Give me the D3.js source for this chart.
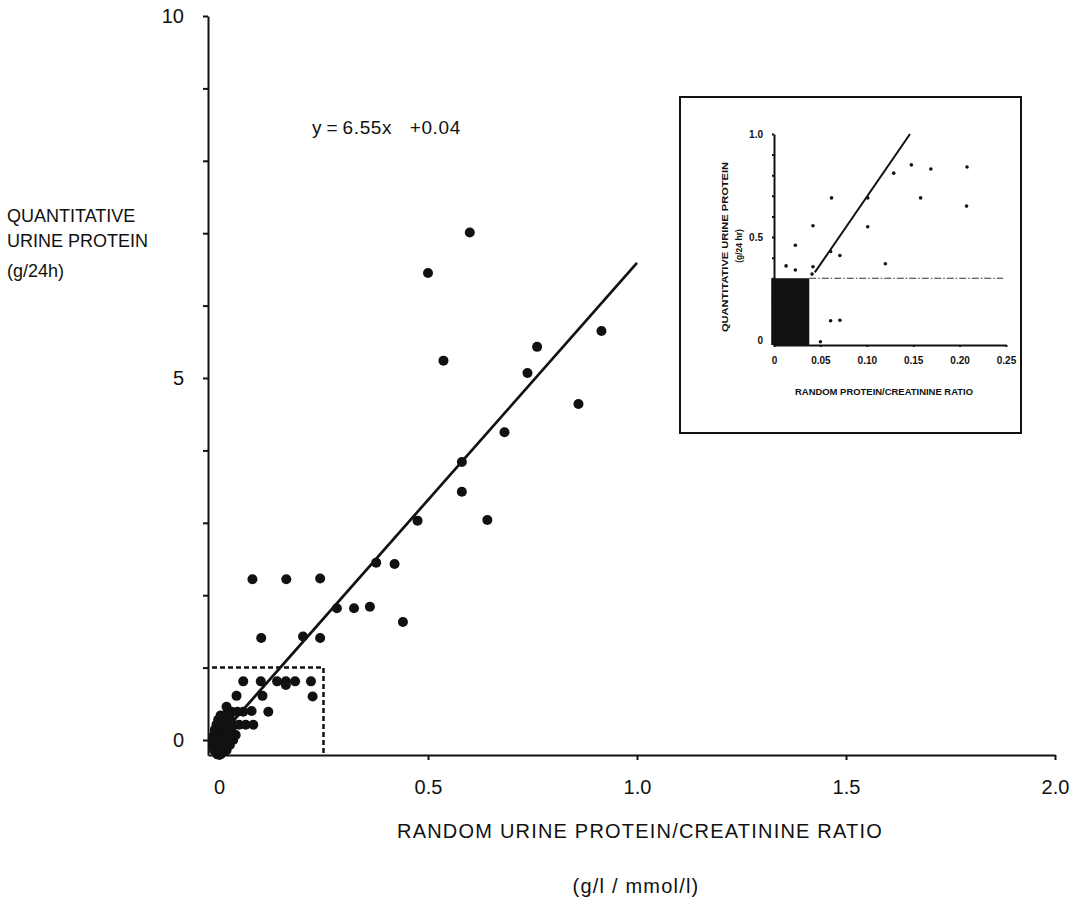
<!DOCTYPE html>
<html>
<head>
<meta charset="utf-8">
<script src="https://cdn.jsdelivr.net/npm/d3@7"></script>
<style>
  body { margin: 0; background: #fff; }
  text { font-family: "Liberation Sans", Arial, sans-serif; fill: #111; }
  .axis path, .axis line { stroke: #111; stroke-width: 2; }
  .axis text { font-size: 20px; }
  .inset .axis text { font-size: 10px; font-weight: bold; }
</style>
</head>
<body>
<div id="chart"></div>
<script>
// Data: main scatter (ratio g/l / mmol/l, protein g/24h)
let ratio = [0.600, 0.500, 0.537, 0.761, 0.738, 0.915, 0.860, 0.683, 0.581, 0.581, 0.642, 0.475,
  0.080, 0.161, 0.242, 0.376, 0.420, 0.282, 0.323, 0.361, 0.440, 0.101, 0.201, 0.242,
  0.058, 0.100, 0.139, 0.160, 0.160, 0.182, 0.220, 0.042, 0.104, 0.224, 0.118, 0.078, 0.058, 0.082, 0.018];
let protein = [7.01, 6.45, 5.24, 5.43, 5.07, 5.65, 4.64, 4.25, 3.84, 3.43, 3.04, 3.03,
  2.22, 2.22, 2.23, 2.45, 2.43, 1.82, 1.82, 1.84, 1.63, 1.41, 1.43, 1.41,
  0.81, 0.81, 0.81, 0.81, 0.76, 0.81, 0.81, 0.61, 0.61, 0.60, 0.39, 0.40, 0.39, 0.21, 0.46];

// Data: dense group near the origin
let clusterRatio = [-0.004, 0.004,
  -0.012, -0.002, 0.008, 0.018,
  -0.014, -0.004, 0.006, 0.016, 0.026,
  -0.014, -0.004, 0.006, 0.016, 0.026, 0.034,
  -0.012, -0.002, 0.008, 0.018, 0.028, 0.040,
  -0.010, 0.000, 0.010, 0.020, 0.030,
  -0.006, 0.004, 0.014, 0.024, 0.034, 0.048, 0.064,
  -0.002, 0.008, 0.018, 0.028,
  0.004, 0.014, 0.024,
  0.030, 0.044];
let clusterProtein = [-0.20, -0.20,
  -0.14, -0.14, -0.14, -0.14,
  -0.07, -0.07, -0.07, -0.07, -0.07,
  0.00, 0.00, 0.00, 0.00, 0.00, 0.00,
  0.07, 0.07, 0.07, 0.07, 0.07, 0.07,
  0.14, 0.14, 0.14, 0.14, 0.14,
  0.21, 0.21, 0.21, 0.21, 0.21, 0.21, 0.21,
  0.28, 0.28, 0.28, 0.28,
  0.34, 0.34, 0.34,
  0.39, 0.39];

// Data: inset
let insetRatio = [0.013, 0.023, 0.023, 0.042, 0.042, 0.041, 0.062, 0.061, 0.071, 0.101, 0.101, 0.120,
  0.129, 0.148, 0.158, 0.169, 0.208, 0.2075, 0.061, 0.071, 0.050];
let insetProtein = [0.36, 0.34, 0.46, 0.555, 0.356, 0.32, 0.69, 0.43, 0.41, 0.69, 0.55, 0.37,
  0.81, 0.85, 0.69, 0.83, 0.84, 0.65, 0.094, 0.096, -0.008];

// Regression and ticks
let slope = 6.55, intercept = 0.04;
let xTicks = [0, 0.5, 1.0, 1.5, 2.0];
let yTicks = d3.range(0, 11);
let yLabels = [0, 5, 10];
let insetXTicks = [0, 0.05, 0.10, 0.15, 0.20, 0.25];
let insetYTicks = d3.range(0, 11).map(d => d / 10);
let insetYLabels = [0, 0.5, 1.0];

// SVG
let svg = d3.select('#chart')
  .append('svg')
  .attr('width', 1082)
  .attr('height', 911);

// Scales
let x = d3.scaleLinear().domain([-0.0263, 2]).range([208, 1055]);
let y = d3.scaleLinear().domain([-0.207, 10]).range([755, 16]);

// Axes
svg.append('g')
  .attr('class', 'x axis')
  .attr('transform', `translate(0, ${y(-0.207)})`)
  .call(d3.axisBottom(x).tickValues(xTicks).tickSize(5).tickSizeOuter(0).tickPadding(20)
    .tickFormat(d => d === 0 ? '0' : d3.format('.1f')(d)));
svg.append('g')
  .attr('class', 'y axis')
  .attr('transform', `translate(${x(-0.0263)}, 0)`)
  .call(d3.axisLeft(y).tickValues(yTicks).tickSize(5).tickSizeOuter(0).tickPadding(19)
    .tickFormat(d => yLabels.includes(d) ? d : ''));

// Dashed box round the inset region
svg.append('path')
  .attr('d', `M${x(-0.0263) + 4},${y(1)}H${x(0.25)}V${y(-0.207)}`)
  .attr('fill', 'none')
  .attr('stroke', '#111')
  .attr('stroke-width', 2.5)
  .attr('stroke-dasharray', '5,3');

// Regression line
svg.append('line')
  .attr('x1', x(0)).attr('y1', y(intercept))
  .attr('x2', x(1)).attr('y2', y(slope + intercept))
  .attr('stroke', '#111')
  .attr('stroke-width', 2.7);

// Points
svg.selectAll('.cluster')
  .data(d3.zip(clusterRatio, clusterProtein))
  .enter()
  .append('circle')
  .attr('class', 'cluster')
  .attr('cx', d => x(d[0]))
  .attr('cy', d => y(d[1]))
  .attr('r', 5)
  .attr('fill', '#111');
svg.selectAll('.dot')
  .data(d3.zip(ratio, protein))
  .enter()
  .append('circle')
  .attr('class', 'dot')
  .attr('cx', d => x(d[0]))
  .attr('cy', d => y(d[1]))
  .attr('r', 5)
  .attr('fill', '#111');

// Labels
svg.append('text')
  .attr('x', 312)
  .attr('y', 134)
  .style('font-size', '19px')
  .style('letter-spacing', '0.6px')
  .text('y\u2009=\u20096.55x\u00a0\u00a0\u00a0+0.04');
let ylab = svg.append('text').style('font-size', '18px');
['QUANTITATIVE', 'URINE PROTEIN', '(g/24h)'].forEach((t, i) => {
  ylab.append('tspan').attr('x', 7).attr('y', [222, 247, 277][i]).text(t);
});
svg.append('text')
  .attr('x', 640)
  .attr('y', 838)
  .attr('text-anchor', 'middle')
  .style('font-size', '20px')
  .style('letter-spacing', '1.2px')
  .text('RANDOM URINE PROTEIN/CREATININE RATIO');
svg.append('text')
  .attr('x', 636)
  .attr('y', 893)
  .attr('text-anchor', 'middle')
  .style('font-size', '20px')
  .style('letter-spacing', '1.2px')
  .text('(g/l / mmol/l)');

// Inset
let inset = svg.append('g').attr('class', 'inset');
inset.append('rect')
  .attr('x', 680).attr('y', 97)
  .attr('width', 341).attr('height', 336)
  .attr('fill', '#fff')
  .attr('stroke', '#111')
  .attr('stroke-width', 2);

let xi = d3.scaleLinear().domain([0, 0.25]).range([774, 1006]);
let yi = d3.scaleLinear().domain([-0.024, 1]).range([345, 134]);

inset.append('rect')
  .attr('x', xi(-0.003))
  .attr('y', yi(0.3))
  .attr('width', xi(0.038) - xi(-0.003))
  .attr('height', yi(-0.024) - yi(0.3))
  .attr('fill', '#111');

inset.append('g')
  .attr('class', 'x axis')
  .attr('transform', `translate(0, ${yi(-0.024)})`)
  .call(d3.axisBottom(xi).tickValues(insetXTicks).tickSize(2).tickSizeOuter(0).tickPadding(10)
    .tickFormat(d => d === 0 ? '0' : d3.format('.2f')(d)));
inset.append('g')
  .attr('class', 'y axis')
  .attr('transform', `translate(${xi(0)}, 0)`)
  .call(d3.axisLeft(yi).tickValues(insetYTicks).tickSize(2).tickSizeOuter(0).tickPadding(9)
    .tickFormat(d => insetYLabels.includes(d) ? (d === 0 ? '0' : d3.format('.1f')(d)) : ''));

inset.append('line')
  .attr('x1', xi(0.038)).attr('y1', yi(0.3))
  .attr('x2', xi(0.247)).attr('y2', yi(0.3))
  .attr('stroke', '#333')
  .attr('stroke-width', 1.2)
  .attr('stroke-dasharray', '7,2,1.5,2');

inset.append('line')
  .attr('x1', xi(0.044)).attr('y1', yi(slope * 0.044 + intercept))
  .attr('x2', xi((1 - intercept) / slope)).attr('y2', yi(1))
  .attr('stroke', '#111')
  .attr('stroke-width', 2);

inset.selectAll('.idot')
  .data(d3.zip(insetRatio, insetProtein))
  .enter()
  .append('circle')
  .attr('class', 'idot')
  .attr('cx', d => xi(d[0]))
  .attr('cy', d => yi(d[1]))
  .attr('r', 1.8)
  .attr('fill', '#111');

inset.append('text')
  .attr('x', 884)
  .attr('y', 395)
  .attr('text-anchor', 'middle')
  .attr('textLength', 178)
  .attr('lengthAdjust', 'spacingAndGlyphs')
  .style('font-size', '8.5px')
  .style('font-weight', 'bold')
  .text('RANDOM PROTEIN/CREATININE RATIO');
inset.append('text')
  .attr('transform', 'translate(728, 247) rotate(-90)')
  .attr('text-anchor', 'middle')
  .attr('textLength', 170)
  .attr('lengthAdjust', 'spacingAndGlyphs')
  .style('font-size', '8.5px')
  .style('font-weight', 'bold')
  .text('QUANTITATIVE URINE PROTEIN');
inset.append('text')
  .attr('transform', 'translate(742, 246) rotate(-90)')
  .attr('text-anchor', 'middle')
  .style('font-size', '8.5px')
  .style('font-weight', 'bold')
  .text('(g/24 hr)');
</script>
</body>
</html>
